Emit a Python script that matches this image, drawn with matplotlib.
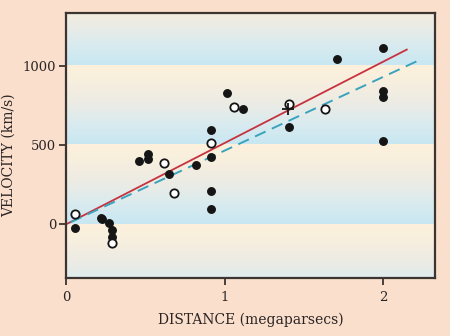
import numpy as np
import matplotlib
matplotlib.use("Agg")
import matplotlib.pyplot as plt
from matplotlib.colors import LinearSegmentedColormap

# Nebulae: distance (Mpc) and radial velocity (km/s)
dist_filled = [0.057, 0.220, 0.228, 0.273, 0.292, 0.292, 0.462, 0.515, 0.515,
               0.649, 0.817, 0.914, 0.914, 0.914, 0.914, 1.017, 1.113, 1.407,
               1.708, 2.000, 2.000, 2.000, 2.000]
vel_filled = [-21, 42, 34, 6, -36, -78, 397, 441, 412,
              317, 372, 595, 426, 212, 96, 826, 725, 613,
              1042, 1112, 842, 803, 523]

dist_open = [0.057, 0.292, 0.619, 0.683, 0.914, 1.060, 1.407, 1.630]
vel_open = [63, -120, 385, 199, 511, 742, 758, 727]

# Group mean marker
dist_cross = [1.400]
vel_cross = [728]

# Fitted velocity-distance relations (km/s per Mpc) and their drawn ranges
slope_solid = 513
range_solid = [0.01, 2.147]
slope_dashed = 465
range_dashed = [0.03, 2.216]

x_ticks = [0, 1, 2]
y_ticks = [0, 500, 1000]
x_lim = (0, 2.325)
y_lim = (-340, 1330)

fig = plt.figure(figsize=(4.5, 3.36), dpi=100)
fig.patch.set_facecolor("#fbdfcd")
ax = fig.add_axes([0.1467, 0.1717, 0.82, 0.7887])

# Banded background: each 500 km/s band fades from pale blue up to cream
band_cmap = LinearSegmentedColormap.from_list(
    "band", ["#c8e7f2", "#d9ebef", "#ebebe5", "#f6eedf", "#fdf1dc"])
vv = np.linspace(y_lim[0], y_lim[1], 800)
t = np.mod(vv, 500) / 500.0
ax.imshow(t[:, None], aspect="auto", cmap=band_cmap, origin="lower",
          extent=[x_lim[0], x_lim[1], y_lim[0], y_lim[1]],
          interpolation="nearest", zorder=0)

# Fit lines
xs = np.array(range_solid)
ax.plot(xs, slope_solid * xs, color="#c8323e", lw=1.3, zorder=2)
xd = np.array(range_dashed)
ax.plot(xd, slope_dashed * xd, color="#3aa3bd", lw=1.4,
        dashes=(6, 3.5), zorder=2)

# Points
ax.plot(dist_filled, vel_filled, "o", ms=5.4, color="#151515",
        mec="#151515", zorder=3)
ax.plot(dist_open, vel_open, "o", ms=6.0, mfc="white", mec="#151515",
        mew=1.3, zorder=3)
ax.plot(dist_cross, vel_cross, "+", ms=8, color="#151515", mew=1.3, zorder=4)

ax.set_xlim(*x_lim)
ax.set_ylim(*y_lim)
ax.set_xticks(x_ticks)
ax.set_yticks(y_ticks)

serif = "DejaVu Serif"
ax.set_xticklabels([str(v) for v in x_ticks], family=serif, fontsize=9.5,
                   color="#2a2424")
ax.set_yticklabels([str(v) for v in y_ticks], family=serif, fontsize=9.5,
                   color="#2a2424")
ax.tick_params(axis="both", direction="out", length=5, width=1.3,
               color="#3b3431")
ax.tick_params(axis="x", pad=4)
ax.tick_params(axis="y", pad=2)

for side in ["left", "bottom", "top", "right"]:
    ax.spines[side].set_color("#3b3431")
    ax.spines[side].set_linewidth(1.6)

ax.set_xlabel("DISTANCE (megaparsecs)", family=serif, fontsize=10,
              color="#2a2424")
ax.set_ylabel("VELOCITY (km/s)", family=serif, fontsize=10,
              color="#2a2424")
ax.xaxis.set_label_coords(0.5, -0.13)
ax.yaxis.set_label_coords(-0.135, 0.465)

fig.savefig("out.png", dpi=100, facecolor=fig.get_facecolor())
